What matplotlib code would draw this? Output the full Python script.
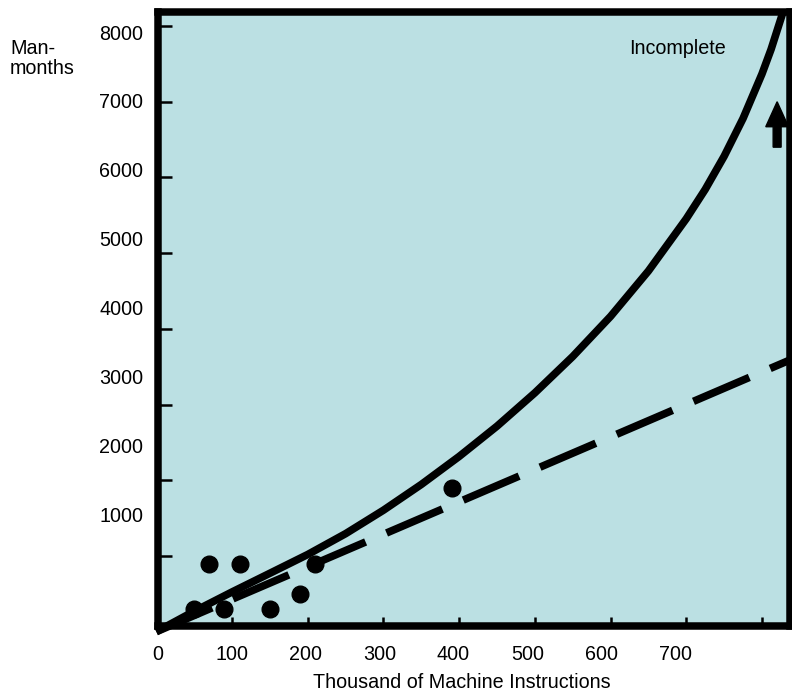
import matplotlib
matplotlib.use("Agg")
import matplotlib.pyplot as plt

plt.rcParams['font.family'] = ['Liberation Sans', 'DejaVu Sans']

# values
curve_x = [0, 50, 100, 150, 200, 250, 300, 350, 400, 450, 500, 550, 600, 650, 700,
           725, 750, 775, 800, 812, 828]
curve_y = [0, 270, 525, 772, 1020, 1295, 1605, 1945, 2315, 2715, 3155, 3635, 4165, 4765, 5455,
           5842, 6280, 6780, 7368, 7692, 8192]

trend_x = [0, 836]
trend_y = [0, 3585]

dots_x = [50, 70, 90, 110, 150, 190, 210, 390]
dots_y = [300, 900, 300, 900, 300, 500, 900, 1900]

x_ticks = [100, 200, 300, 400, 500, 600, 700, 800]
y_ticks = [1000, 2000, 3000, 4000, 5000, 6000, 7000, 8000]
x_labels = [0, 100, 200, 300, 400, 500, 600, 700]
y_labels = [1000, 2000, 3000, 4000, 5000, 6000, 7000, 8000]

bg = '#BBE0E3'
fs = 14.2

fig = plt.figure(figsize=(7.92, 6.94), dpi=100)
pos = [158 / 792, 68.5 / 694, 632 / 792, 614 / 694]
ax = fig.add_axes(pos)
ax.set_facecolor(bg)
ax.set_xlim(2.2, 837)
ax.set_ylim(82, 8192)

ax.plot(curve_x, curve_y, color='black', lw=5.5, solid_capstyle='butt',
        solid_joinstyle='round', clip_on=False, zorder=3)
ax.plot(trend_x, trend_y, color='black', lw=5.5, dashes=(7.95, 2.98), clip_on=False, zorder=3)
ax.plot(dots_x, dots_y, 'o', color='black', ms=12, zorder=4)

# arrow pointing up (incomplete)
ax.arrow(820, 6400, 0, 600, width=10.5, head_width=30, head_length=330,
         length_includes_head=True, fc='black', ec='black', zorder=4)
ax.text(688, 7630, 'Incomplete', fontsize=fs, ha='center', va='baseline')

for s in ax.spines.values():
    s.set_linewidth(5.4)
ax.set_xticks(x_ticks)
ax.set_yticks(y_ticks)
ax.set_xticklabels([])
ax.set_yticklabels([])
ax.tick_params(axis='x', direction='in', length=6.5, width=1.8)
ax.tick_params(axis='y', direction='in', length=10, width=1.8)

# tick labels sit a little off the tick marks in the original
lab = fig.add_axes(pos, frameon=False)
lab.set_xlim(9.4, 855.4)
lab.set_ylim(-619, 8298)
lab.set_xticks(x_labels)
lab.set_yticks(y_labels)
lab.set_xticklabels([str(v) for v in x_labels], fontsize=fs)
lab.set_yticklabels([str(v) for v in y_labels], fontsize=fs)
lab.tick_params(axis='x', length=0, pad=14)
lab.tick_params(axis='y', length=0, pad=10.5)

fig.text(461.5 / 792, 1 - 688 / 694, 'Thousand of Machine Instructions',
         fontsize=fs, ha='center', va='baseline')
fig.text(10 / 792, 1 - 39 / 694, 'Man-\nmonths', fontsize=fs, ha='left', va='top',
         linespacing=1.1)

fig.savefig('out.png', dpi=100)
